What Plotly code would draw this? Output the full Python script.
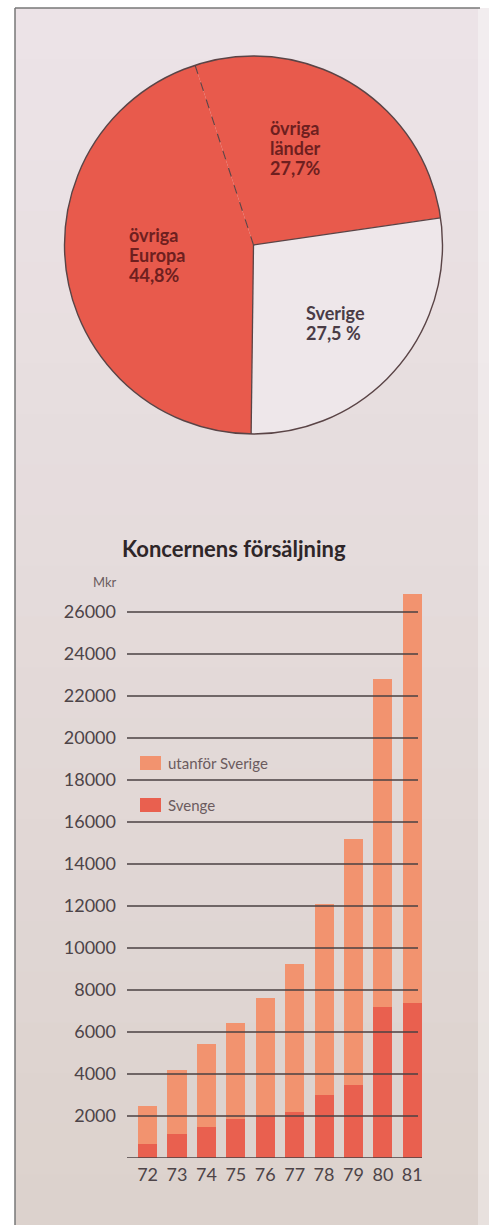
import math
import plotly.graph_objects as go

# ---------------- data ----------------
pie_labels = ["övriga länder", "Sverige", "övriga Europa"]
pie_values = [27.7, 27.5, 44.8]

years = ["72", "73", "74", "75", "76", "77", "78", "79", "80", "81"]
sverige = [690, 1120, 1500, 1880, 1980, 2180, 3000, 3480, 7200, 7400]
utanfor = [1810, 3080, 3950, 4540, 5620, 7070, 9100, 11720, 15600, 19480]
series_names = ["Svenge", "utanför Sverige"]
y_ticks = [2000, 4000, 6000, 8000, 10000, 12000, 14000, 16000, 18000, 20000, 22000, 24000, 26000]

# ---------------- style ----------------
W, H = 489, 1225
FONT = "Lato"
RED = "#e85a4c"
WHITE_SLICE = "#eee7ea"
C_SVE = "#e9604f"
C_UTA = "#f2936f"
LINE_DARK = "#5a4446"
GRID = "#4a4042"
TXT = "#4d4448"

def px(x):
    return x / W

def py(y):
    return 1 - y / H

fig = go.Figure()

# ---------------- pie ----------------
CX, CY, R = 253.5, 245.0, 189.0
ROT = -18
fig.add_trace(go.Pie(
    labels=pie_labels, values=pie_values, sort=False, direction="clockwise",
    rotation=ROT, textinfo="none", showlegend=False,
    marker=dict(colors=[RED, WHITE_SLICE, RED], line=dict(width=0)),
    domain=dict(x=[px(CX - R), px(CX + R)], y=[py(CY + R), py(CY - R)]),
    hoverinfo="label+percent",
))

shapes = []
# background panel (vertical colour drift of the scanned page)
top_c = (236, 227, 231)
bot_c = (220, 210, 205)
nb = 24
y0b = 8
for i in range(nb):
    t = i / (nb - 1)
    c = tuple(round(top_c[k] + (bot_c[k] - top_c[k]) * t) for k in range(3))
    ya = y0b + (H - y0b) * i / nb
    yb = y0b + (H - y0b) * (i + 1) / nb + 1
    shapes.append(dict(type="rect", xref="paper", yref="paper", layer="below",
                       x0=px(15), x1=1, y0=py(yb), y1=py(ya),
                       fillcolor="rgb(%d,%d,%d)" % c, line=dict(width=0)))
shapes.append(dict(type="rect", xref="paper", yref="paper", layer="below",
                   x0=px(478), x1=1, y0=0, y1=py(8),
                   fillcolor="rgba(255,255,255,0.35)", line=dict(width=0)))
# frame lines
shapes.append(dict(type="line", xref="paper", yref="paper", layer="below",
                   x0=px(15), x1=px(15), y0=0, y1=py(8),
                   line=dict(color="#777", width=1.5)))
shapes.append(dict(type="line", xref="paper", yref="paper", layer="below",
                   x0=px(15), x1=px(480), y0=py(8), y1=py(8),
                   line=dict(color="#777", width=1.5)))

# pie outline and slice borders (angles derived from the pie values)
shapes.append(dict(type="circle", xref="paper", yref="paper", layer="above",
                   x0=px(CX - R), x1=px(CX + R), y0=py(CY + R), y1=py(CY - R),
                   line=dict(color=LINE_DARK, width=1.4)))
tot = sum(pie_values)
ang = ROT
bounds = [ang]
for v in pie_values[:-1]:
    ang += 360 * v / tot
    bounds.append(ang)
for k, a in enumerate(bounds):
    ex = CX + R * math.sin(math.radians(a))
    ey = CY - R * math.cos(math.radians(a))
    shapes.append(dict(type="line", xref="paper", yref="paper", layer="above",
                       x0=px(CX), y0=py(CY), x1=px(ex), y1=py(ey),
                       line=dict(color=LINE_DARK, width=1.3 if k else 1.1,
                                 dash="dash" if k == 0 else "solid")))

annotations = []
def fmt_pct(v):
    return ("%.1f" % v).replace(".", ",") + "%"

pie_text_pos = {  # left x, first line centre y, colour
    "övriga länder": (268, 128, "#6e1f1f"),
    "Sverige": (304, 313, "#4a3c46"),
    "övriga Europa": (127, 235, "#6e1f1f"),
}
for lab, val in zip(pie_labels, pie_values):
    x0, y0, col = pie_text_pos[lab]
    lines = lab.split(" ")
    lines.append(fmt_pct(val) if lab != "Sverige" else fmt_pct(val).replace("%", " %"))
    for j, ln in enumerate(lines):
        annotations.append(dict(xref="paper", yref="paper", x=px(x0), y=py(y0 + 20 * j),
                                xanchor="left", yanchor="middle", showarrow=False,
                                text="<b>%s</b>" % ln,
                                font=dict(family=FONT, size=18, color=col)))

# ---------------- bars ----------------
fig.add_trace(go.Bar(x=years, y=sverige, name=series_names[0], marker=dict(color=C_SVE, line=dict(width=0)),
                     showlegend=False, xaxis="x", yaxis="y"))
fig.add_trace(go.Bar(x=years, y=utanfor, name=series_names[1], marker=dict(color=C_UTA, line=dict(width=0)),
                     showlegend=False, xaxis="x", yaxis="y"))

PL, PR, PT, PB = 127, 422, 590, 1158
Y0 = 0
YMAX = (PB - PT) / (PB - 612) * 26000

for t in y_ticks:
    shapes.append(dict(type="line", xref="x domain", yref="y", layer="above",
                       x0=0, x1=(418 - PL) / (PR - PL), y0=t, y1=t,
                       line=dict(color=GRID, width=1.3)))
shapes.append(dict(type="line", xref="x domain", yref="y", layer="above",
                   x0=0, x1=1, y0=0, y1=0, line=dict(color=GRID, width=1.3)))

# custom legend (swatch + label), order as in the reference
leg = [(series_names[1], C_UTA, 763), (series_names[0], C_SVE, 805)]
for name, col, yc in leg:
    shapes.append(dict(type="rect", xref="paper", yref="paper", layer="above",
                       x0=px(140), x1=px(161), y0=py(yc + 7), y1=py(yc - 7),
                       fillcolor=col, line=dict(width=0)))
    annotations.append(dict(xref="paper", yref="paper", x=px(166), y=py(yc),
                            xanchor="left", yanchor="middle", showarrow=False, text=name,
                            font=dict(family=FONT, size=15, color="#6b5b5e")))

annotations.append(dict(xref="paper", yref="paper", x=px(234), y=py(548),
                        xanchor="center", yanchor="middle", showarrow=False,
                        text="<b>Koncernens försäljning</b>",
                        font=dict(family=FONT, size=22, color="#2e2628")))
annotations.append(dict(xref="paper", yref="paper", x=px(91), y=py(582),
                        xanchor="left", yanchor="middle", showarrow=False, text="Mkr",
                        font=dict(family=FONT, size=13, color="#6b5b5e")))

fig.update_layout(
    width=W, height=H, margin=dict(l=0, r=0, t=0, b=0),
    paper_bgcolor="#ffffff", plot_bgcolor="rgba(0,0,0,0)",
    barmode="stack", bargap=0.35, showlegend=False,
    xaxis=dict(domain=[px(PL), px(PR)], range=[-0.70, 9.33], type="category",
               showgrid=False, zeroline=False, showline=False, ticks="",
               tickfont=dict(family=FONT, size=18, color=TXT), ticklabelstandoff=4,
               fixedrange=True),
    yaxis=dict(domain=[py(PB), py(PT)], range=[Y0, YMAX], showgrid=False, zeroline=False,
               showline=False, ticks="", tickvals=y_ticks, ticktext=[str(t) for t in y_ticks],
               tickfont=dict(family=FONT, size=18, color=TXT), ticklabelstandoff=10,
               fixedrange=True),
    shapes=shapes, annotations=annotations,
)

fig.write_html("out.html", config={"displayModeBar": False},
               post_script="document.body.style.margin='0';"
                           "document.body.style.overflow='hidden';"
                           "document.documentElement.style.overflow='hidden';")
